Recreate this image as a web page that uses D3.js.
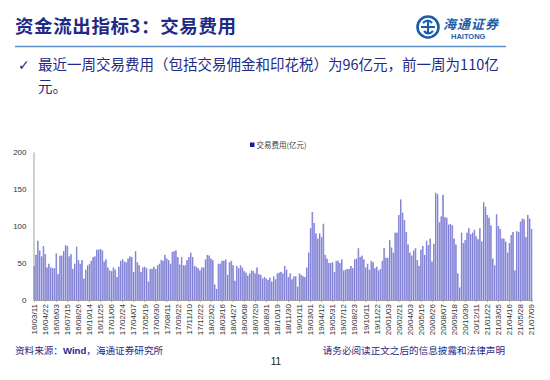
<!DOCTYPE html>
<html lang="zh">
<head>
<meta charset="UTF-8">
<title>资金流出指标3：交易费用</title>
<script src="https://d3js.org/d3.v7.min.js"></script>
<style>
  body { margin: 0; background: #fff; }
  svg { display: block; }
</style>
</head>
<body>
<div id="chart"></div>
<script>
// 周度交易费用（亿元），2016/03/11 - 2021/07/09
const fees = [
  46, 61, 80, 67, 59, 73, 62, 44, 49, 44, 43, 43, 63, 35, 60, 60, 66, 74, 73, 59,
  62, 42, 49, 72, 54, 49, 54, 29, 41, 47, 49, 53, 58, 59, 68, 68, 69, 67, 52, 55,
  44, 40, 39, 44, 41, 31, 45, 53, 55, 52, 51, 56, 59, 58, 38, 66, 51, 47, 38, 44,
  45, 43, 25, 42, 42, 45, 42, 47, 49, 54, 53, 61, 56, 54, 49, 65, 66, 67, 58, 48,
  58, 47, 47, 54, 58, 64, 58, 46, 45, 43, 40, 44, 44, 55, 61, 60, 56, 54, 21, 15,
  49, 49, 53, 53, 55, 34, 51, 53, 47, 26, 46, 43, 47, 44, 39, 37, 33, 36, 40, 39,
  36, 44, 35, 34, 29, 31, 29, 27, 30, 25, 32, 28, 36, 37, 38, 36, 46, 41, 31, 36,
  28, 32, 32, 18, 36, 34, 32, 31, 44, 64, 97, 119, 104, 90, 83, 90, 85, 103, 61, 56,
  50, 50, 51, 38, 53, 53, 50, 55, 40, 41, 42, 42, 46, 43, 55, 56, 70, 58, 60, 55,
  44, 49, 41, 53, 51, 43, 45, 40, 42, 53, 70, 57, 57, 81, 71, 64, 91, 91, 115, 136,
  118, 108, 92, 75, 64, 60, 67, 70, 54, 46, 68, 73, 61, 80, 74, 83, 52, 76, 145, 143,
  105, 113, 142, 112, 111, 102, 103, 101, 83, 75, 36, 17, 91, 77, 81, 91, 97, 89, 91, 95,
  86, 82, 97, 79, 132, 126, 115, 111, 101, 56, 47, 116, 100, 96, 83, 83, 79, 64, 77, 88,
  92, 40, 93, 92, 106, 110, 109, 85, 115, 110, 96
];

// 每6周一个刻度标签
const tickLabels = [
  "16/03/11", "16/04/22", "16/06/03", "16/07/15", "16/08/26", "16/10/14", "16/11/25",
  "17/01/06", "17/02/24", "17/04/07", "17/05/19", "17/06/30", "17/08/11", "17/09/22",
  "17/11/10", "17/12/22", "18/02/02", "18/03/16", "18/04/27", "18/06/08", "18/07/20",
  "18/08/31", "18/10/19", "18/11/30", "19/01/11", "19/03/01", "19/04/12", "19/05/31",
  "19/07/12", "19/08/23", "19/10/11", "19/11/22", "20/01/03", "20/02/21", "20/04/03",
  "20/05/15", "20/06/26", "20/08/07", "20/09/18", "20/10/30", "20/12/11", "21/01/22",
  "21/03/05", "21/04/16", "21/05/28", "21/07/09"
];
const tickStep = 6;
const yTicks = [0, 50, 100, 150, 200];

const navy = "#1f2b86";
const cjk = "'Noto Sans CJK SC', 'Noto Sans', sans-serif";
const latin = "'Liberation Sans', Arial, sans-serif";

const svg = d3.select("#chart").append("svg")
    .attr("width", 550)
    .attr("height", 380);

// 标题
svg.append("text")
    .attr("x", 15).attr("y", 33)
    .style("font-family", cjk)
    .style("font-size", "18.5px")
    .style("font-weight", "bold")
    .style("letter-spacing", "0.6px")
    .style("fill", navy)
    .text("资金流出指标3：交易费用");

svg.append("line")
    .attr("x1", 15).attr("x2", 506)
    .attr("y1", 46.5).attr("y2", 46.5)
    .style("stroke", "#5d8fc8")
    .style("stroke-width", 1.5);

// logo
const logo = svg.append("g").attr("transform", "translate(428,27)");
logo.append("circle").attr("r", 10.5)
    .style("fill", "none").style("stroke", "#1b5ea8").style("stroke-width", 2.6);
logo.append("path")
    .attr("d", "M-7,0 H7 M0,-7 V7 M-5,-4 Q0,-9 4,-4 M5,4 Q0,9 -4,4")
    .style("fill", "none").style("stroke", "#1b5ea8").style("stroke-width", 2.2);
svg.append("text")
    .attr("x", 443).attr("y", 29)
    .style("font-family", cjk)
    .style("font-size", "13px")
    .style("font-style", "italic")
    .style("font-weight", "bold")
    .style("letter-spacing", "1px")
    .style("fill", "#1b5ea8")
    .text("海通证券");
svg.append("text")
    .attr("x", 451).attr("y", 39)
    .style("font-family", latin)
    .style("font-size", "7.5px")
    .style("font-weight", "bold")
    .style("fill", "#1b5ea8")
    .text("HAITONG");

// 要点
svg.append("text")
    .attr("x", 18).attr("y", 70)
    .style("font-family", "'DejaVu Sans', sans-serif")
    .style("font-size", "14px")
    .style("fill", navy)
    .text("✓");
const para = svg.append("text")
    .style("font-family", cjk)
    .style("font-size", "14.5px")
    .style("fill", navy);
para.append("tspan").attr("x", 38).attr("y", 70)
    .text("最近一周交易费用（包括交易佣金和印花税）为96亿元，前一周为110亿");
para.append("tspan").attr("x", 38).attr("y", 92)
    .text("元。");

// 图表
const x = d3.scaleBand()
    .domain(d3.range(fees.length))
    .range([33.5, 532.5])
    .paddingInner(0.18)
    .paddingOuter(0.05);
const y = d3.scaleLinear().domain([0, 200]).range([300, 152]);

const defs = svg.append("defs");
const grad = defs.append("linearGradient").attr("id", "barGrad")
    .attr("x1", "0").attr("x2", "1").attr("y1", "0").attr("y2", "0");
grad.append("stop").attr("offset", "0").attr("stop-color", "#4646be");
grad.append("stop").attr("offset", "0.35").attr("stop-color", "#8282d6");
grad.append("stop").attr("offset", "1").attr("stop-color", "#acacea");

svg.append("g")
    .selectAll("rect")
    .data(fees)
    .join("rect")
    .attr("x", (d, i) => x(i))
    .attr("width", x.bandwidth())
    .attr("y", d => y(d))
    .attr("height", d => y(0) - y(d))
    .style("fill", "url(#barGrad)");

const yAxis = svg.append("g")
    .attr("transform", "translate(33.5,0)")
    .call(d3.axisLeft(y).tickValues(yTicks).tickSize(0).tickPadding(7));
yAxis.select(".domain").style("stroke", "#a0a0a0");
yAxis.selectAll("text")
    .style("font-family", latin)
    .style("font-size", "8px")
    .style("fill", "#333");

const tickIdx = d3.range(0, fees.length, tickStep);
const xAxis = svg.append("g")
    .attr("transform", "translate(0,300)")
    .call(d3.axisBottom(x)
        .tickValues(tickIdx)
        .tickSize(2)
        .tickSizeOuter(0)
        .tickFormat(i => tickLabels[i / tickStep]));
xAxis.select(".domain").style("stroke", "#a0a0a0");
xAxis.selectAll(".tick line").style("stroke", "#a0a0a0");
xAxis.selectAll("text")
    .attr("transform", "rotate(-90)")
    .attr("text-anchor", "end")
    .attr("x", -4)
    .attr("y", 0)
    .attr("dy", "0.33em")
    .style("font-family", latin)
    .style("font-size", "8px")
    .style("fill", "#333");

// 图例
svg.append("rect")
    .attr("x", 250).attr("y", 142.5)
    .attr("width", 4.5).attr("height", 4.5)
    .style("fill", "#1a1a9c");
svg.append("text")
    .attr("x", 256.5).attr("y", 147.5)
    .style("font-family", cjk)
    .style("font-size", "7.5px")
    .style("fill", "#444")
    .text("交易费用(亿元)");

// 页脚
const src = svg.append("text")
    .attr("x", 15).attr("y", 354)
    .style("font-family", cjk)
    .style("font-size", "9.6px")
    .style("fill", navy);
src.append("tspan").text("资料来源：");
src.append("tspan").style("font-family", latin).style("font-weight", "bold").text("Wind");
src.append("tspan").text("，海通证券研究所");

svg.append("text")
    .attr("x", 505).attr("y", 354)
    .attr("text-anchor", "end")
    .style("font-family", cjk)
    .style("font-size", "9.6px")
    .style("fill", navy)
    .text("请务必阅读正文之后的信息披露和法律声明");

svg.append("text")
    .attr("x", 276).attr("y", 365)
    .attr("text-anchor", "middle")
    .style("font-family", latin)
    .style("font-size", "10px")
    .style("fill", "#222")
    .text("11");
</script>
</body>
</html>
